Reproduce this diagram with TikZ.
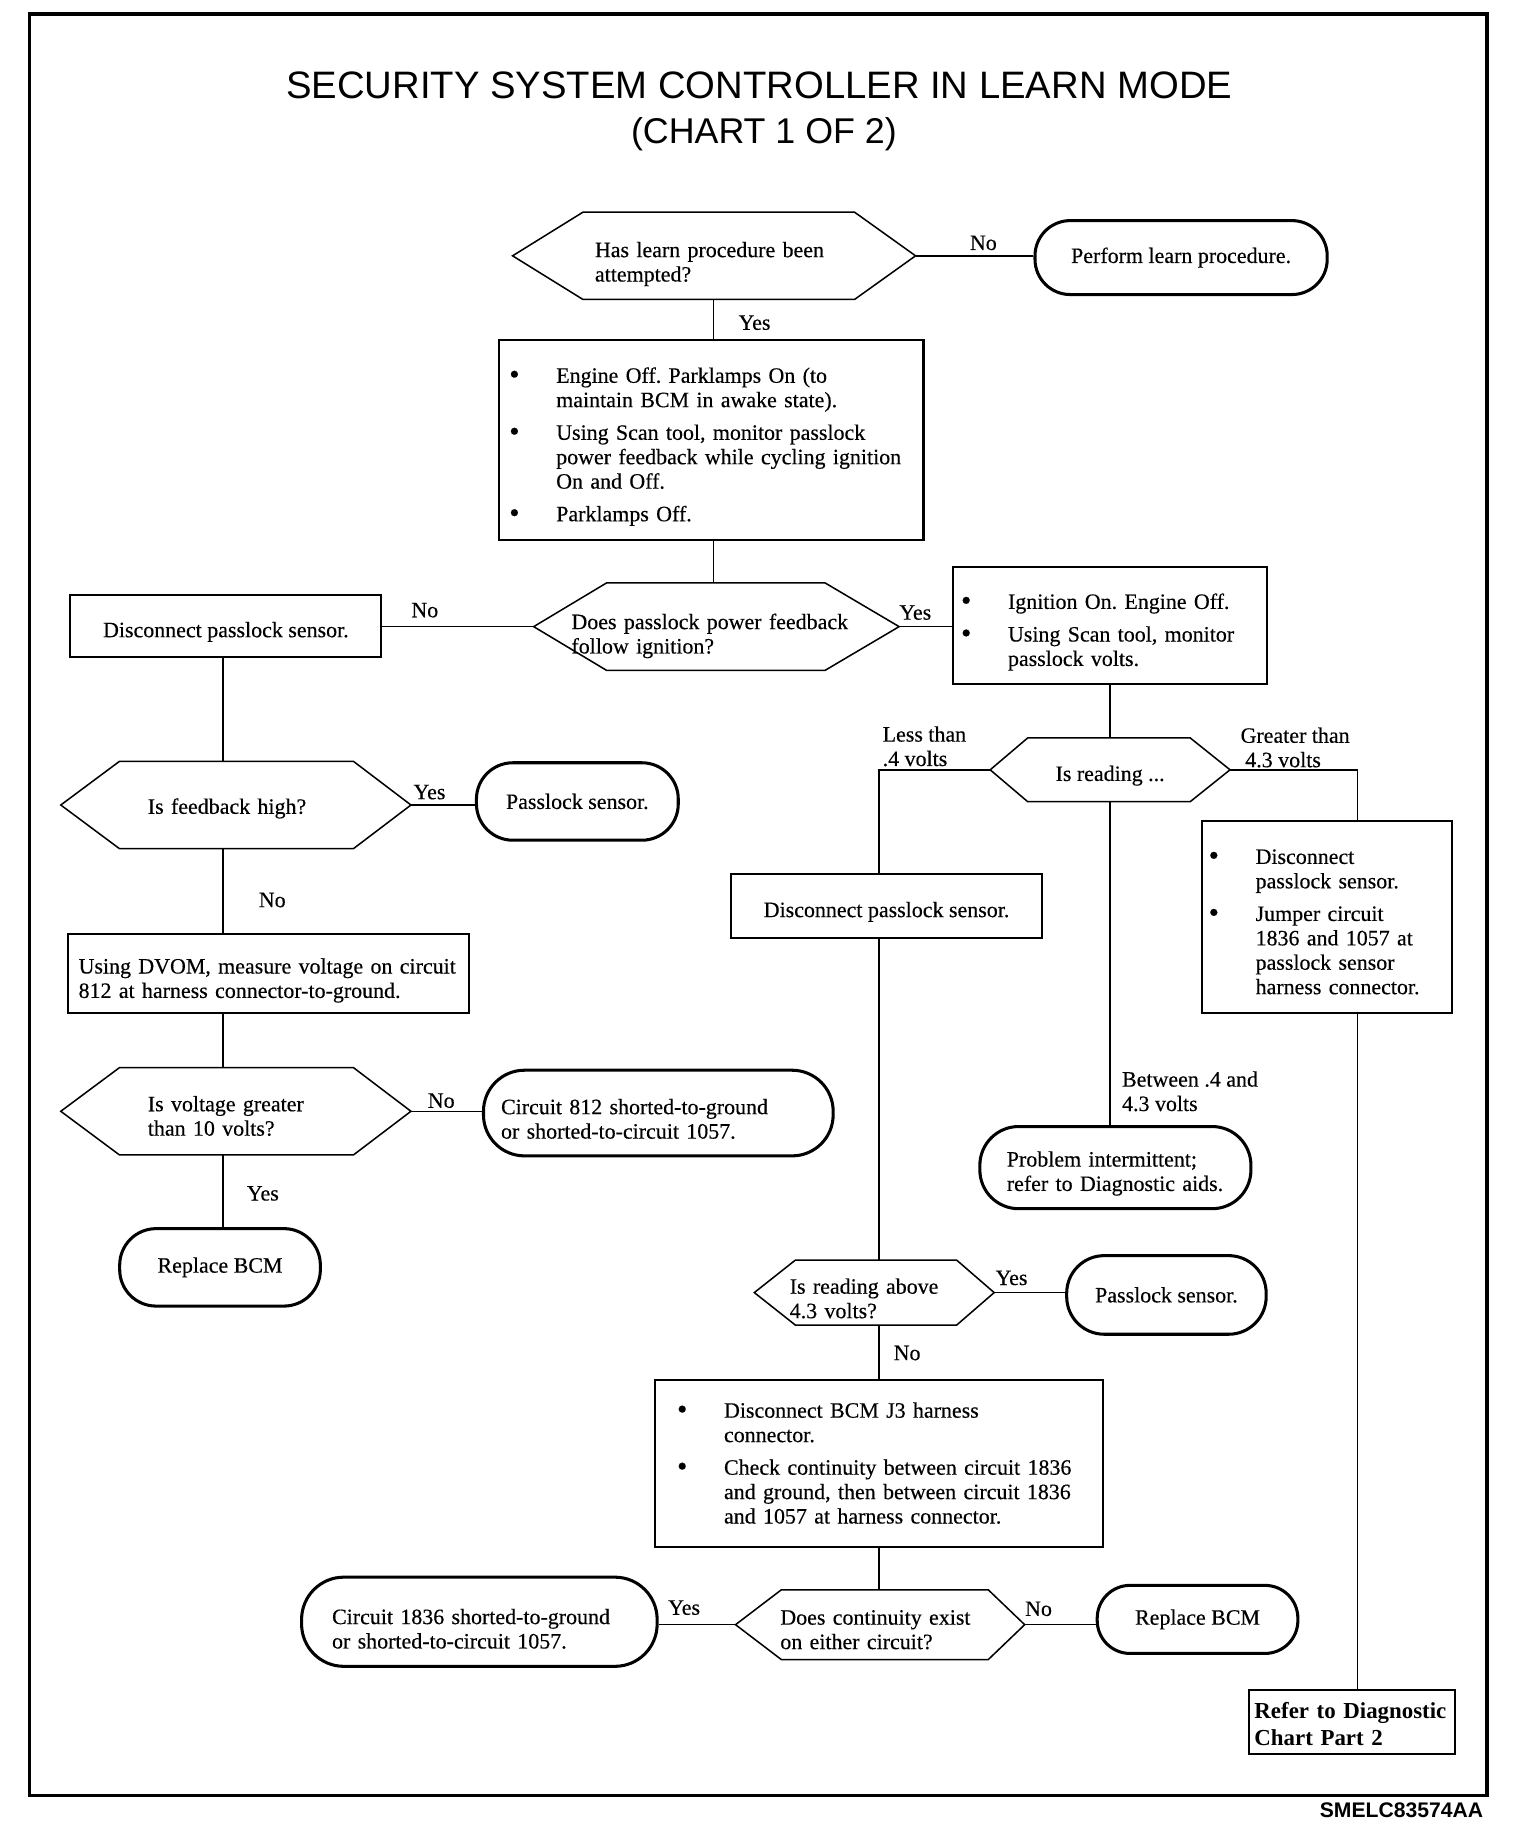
\documentclass[tikz,border=0pt]{standalone}
\usepackage{fontspec}
\setmainfont{Liberation Serif}[FakeBold=0.35]
\newfontfamily\sansfam{Liberation Sans}
\newfontfamily\boldserif{Liberation Serif Bold}
\usetikzlibrary{calc}
\frenchspacing
\newcommand{\bul}{\makebox[40pt][l]{\raisebox{-1pt}{\fontsize{25}{20}\selectfont\textbullet}}}
\newcommand{\dn}[1]{\rule{0pt}{\dimexpr 13pt+#1pt\relax}}
\newcommand{\dnt}[1]{\rule{0pt}{\dimexpr 14.6pt+#1pt\relax}}
\newcommand{\hexout}[3]{\draw[hexline] ([xshift=#2pt]#1.north west) -- ([xshift=-#3pt]#1.north east) -- (#1.east) -- ([xshift=-#3pt]#1.south east) -- ([xshift=#2pt]#1.south west) -- (#1.west) -- cycle;}
\tikzset{
  base/.style={font={\fontsize{18.7}{20.8}\selectfont\parindent=0pt\frenchspacing}, inner sep=0pt},
  hexn/.style={base, align=left},
  hexline/.style={line width=1.3pt, line join=miter},
  rbox/.style={base, draw, line width=1.8pt},
  term/.style={base, draw, line width=2.6pt, rounded corners=#1},
  conn/.style={line width=1.3pt},
  low/.style={text height=19pt, text depth=0pt},
}
\begin{document}
\begin{tikzpicture}[x=1pt,y=-1pt]
\useasboundingbox (0,0) rectangle (1309,1568);
\draw[line width=3pt] (25,12) rectangle (1267,1530);

\node[font=\sansfam\fontsize{32.6}{38}\selectfont] (t1) at (647,73) {SECURITY SYSTEM CONTROLLER IN LEARN MODE};
\node[font=\sansfam\fontsize{30.5}{36}\selectfont] (t2) at (651,114) {(CHART 1 OF 2)};

% hexagons
\node[hexn, minimum width=343, minimum height=74, inner xsep=70pt, text width=203pt] (h1) at (608.5,218) {\dn{14}Has learn procedure been\\attempted?};
\hexout{h1}{60}{52}
\node[hexn, minimum width=311, minimum height=74, inner xsep=32pt, text width=247pt] (h2) at (610.5,534) {\dn{16}Does passlock power feedback\\follow ignition?};
\hexout{h2}{62}{63}
\node[hexn, minimum width=298, minimum height=74, inner xsep=74pt, text width=150pt] (h3) at (201,686) {\dn{6}Is feedback high?};
\hexout{h3}{50}{49}
\node[hexn, minimum width=298, minimum height=74, inner xsep=74pt, text width=150pt] (h4) at (201,947) {\dn{8}Is voltage greater\\than 10 volts?};
\hexout{h4}{50}{49}
\node[base, low, align=center, minimum width=204, minimum height=54] (h5) at (946,656) {Is reading ...};
\hexout{h5}{32}{34}
\node[hexn, minimum width=204, minimum height=55, inner xsep=30pt, text width=144pt] (h6) at (745,1101.5) {\dn{10}Is reading above\\4.3 volts?};
\hexout{h6}{35}{32}
\node[hexn, minimum width=246, minimum height=59, inner xsep=38pt, text width=170pt] (h7) at (750,1384.5) {\dn{8}Does continuity exist\\on either circuit?};
\hexout{h7}{39}{31}

% rectangles
\node[rbox, align=left, minimum width=362, minimum height=170, inner xsep=9pt, text width=344pt] (box1) at (606,375) {\dnt{12}\begin{tabular}[t]{@{}l@{}l@{}}
\bul & Engine Off. Parklamps On (to\\
 & maintain BCM in awake state).\\[7pt]
\bul & Using Scan tool, monitor passlock\\
 & power feedback while cycling ignition\\
 & On and Off.\\[7pt]
\bul & Parklamps Off.
\end{tabular}};
\node[rbox, low, align=center, minimum width=265, minimum height=53] (l1) at (192.5,533.5) {Disconnect passlock sensor.};
\node[rbox, align=left, minimum width=268, minimum height=100, inner xsep=7pt, text width=254pt] (r1) at (946,533) {\dnt{12}\begin{tabular}[t]{@{}l@{}l@{}}
\bul & Ignition On. Engine Off.\\[7pt]
\bul & Using Scan tool, monitor\\
 & passlock volts.
\end{tabular}};
\node[rbox, align=left, minimum width=342, minimum height=67, inner xsep=9pt, text width=324pt] (l2) at (229,829.5) {\dn{12}Using DVOM, measure voltage on circuit\\812 at harness connector-to-ground.};
\node[rbox, low, align=center, minimum width=265, minimum height=54] (r2) at (755.5,772) {Disconnect passlock sensor.};
\node[rbox, align=left, minimum width=213, minimum height=163, inner xsep=6pt, text width=201pt] (r3) at (1130.5,781.5) {\dnt{12}\begin{tabular}[t]{@{}l@{}l@{}}
\bul & Disconnect\\
 & passlock sensor.\\[7pt]
\bul & Jumper circuit\\
 & 1836 and 1057 at\\
 & passlock sensor\\
 & harness connector.
\end{tabular}};
\node[rbox, align=left, minimum width=382, minimum height=142, inner xsep=19pt, text width=344pt] (b1) at (749,1247) {\dnt{4}\begin{tabular}[t]{@{}l@{}l@{}}
\bul & Disconnect BCM J3 harness\\
 & connector.\\[7pt]
\bul & Check continuity between circuit 1836\\
 & and ground, then between circuit 1836\\
 & and 1057 at harness connector.
\end{tabular}};
\node[rbox, line width=1.6pt, align=left, minimum width=176, minimum height=55, inner xsep=5pt, text width=166pt, font={\fontsize{19.5}{23}\boldserif\parindent=0pt}] (refer) at (1152,1467.5) {\dn{4}\mbox{Refer to Diagnostic}\\\mbox{Chart Part 2}};

% terminals
\node[term=30pt, minimum width=249, minimum height=63] (perform) at (1006.5,219.5) {Perform learn procedure.};
\node[term=31pt, minimum width=172, minimum height=66] (ps1) at (492,683) {Passlock sensor.};
\node[term=35pt, align=left, minimum width=298, minimum height=73, inner xsep=15pt, text width=268pt] (c812) at (561,948.5) {\dn{10}Circuit 812 shorted-to-ground\\or shorted-to-circuit 1057.};
\node[term=31pt, minimum width=171, minimum height=66] (rbcm1) at (187.5,1080) {Replace BCM};
\node[term=33pt, align=left, minimum width=231, minimum height=70, inner xsep=23pt, text width=185pt] (prob) at (950.5,995) {\dn{10}Problem intermittent;\\refer to Diagnostic aids.};
\node[term=32pt, minimum width=170, minimum height=67] (ps2) at (994,1103.5) {Passlock sensor.};
\node[term=36pt, align=left, minimum width=303, minimum height=76, inner xsep=26pt, text width=251pt] (c1836) at (408.5,1382) {\dn{12}Circuit 1836 shorted-to-ground\\or shorted-to-circuit 1057.};
\node[term=28pt, minimum width=171, minimum height=58] (rbcm2) at (1020.5,1380) {Replace BCM};

% columns
\coordinate (lcol) at (190,0);
\coordinate (ccol) at (608,0);
\coordinate (gcol) at (1157,0);

% connectors
\draw[conn] (h1.east) -- (h1.east -| perform.west);
\draw[conn] (ccol |- h1.south) -- (ccol |- box1.north);
\draw[conn] (ccol |- box1.south) -- (ccol |- h2.north);
\draw[conn] (h2.west) -- (h2.west -| l1.east);
\draw[conn] (h2.east) -- (h2.east -| r1.west);
\draw[conn] (lcol |- l1.south) -- (lcol |- h3.north);
\draw[conn] (h3.east) -- (h3.east -| ps1.west);
\draw[conn] (lcol |- h3.south) -- (lcol |- l2.north);
\draw[conn] (lcol |- l2.south) -- (lcol |- h4.north);
\draw[conn] (h4.east) -- (h4.east -| c812.west);
\draw[conn] (lcol |- h4.south) -- (lcol |- rbcm1.north);
\draw[conn] (r1.south) -- (r1.south |- h5.north);
\draw[conn] (h5.west) -| (b1.north |- r2.north);
\draw[conn] (b1.north |- r2.south) -- (b1.north |- h6.north);
\draw[conn] (h6.east) -- (h6.east -| ps2.west);
\draw[conn] (b1.north |- h6.south) -- (b1.north);
\draw[conn] (b1.south) -- (b1.south |- h7.north);
\draw[conn] (h7.west) -- (h7.west -| c1836.east);
\draw[conn] (h7.east) -- (h7.east -| rbcm2.west);
\draw[conn] (h5.south) -- (h5.south |- prob.north);
\draw[conn] (h5.east) -| (gcol |- r3.north);
\draw[conn] (gcol |- r3.south) -- (gcol |- refer.north);

% labels
\node[base] (n1) at (838,207) {No};
\node[base] (y1) at (643,275) {Yes};
\node[base] (n2) at (362,520) {No};
\node[base] (y2) at (780,522) {Yes};
\node[base] (y3) at (366,675) {Yes};
\node[base] (n3) at (232,767) {No};
\node[base] (n4) at (376,938) {No};
\node[base] (y4) at (224,1017) {Yes};
\node[base, align=left, anchor=west] (less) at (752,636) {Less than\\.4 volts};
\node[base, align=left, anchor=west] (great) at (1057,637) {Greater than\\\hspace*{4pt}4.3 volts};
\node[base, align=left, anchor=west] (betw) at (956,930) {Between .4 and\\4.3 volts};
\node[base] (y5) at (862,1089) {Yes};
\node[base] (n5) at (773,1153) {No};
\node[base] (y6) at (583,1370) {Yes};
\node[base] (n6) at (885,1371) {No};

\node[font=\sansfam\bfseries\fontsize{18}{20}\selectfont, anchor=east, inner sep=0pt] (code) at (1264,1543) {SMELC83574AA};
\end{tikzpicture}
\end{document}
